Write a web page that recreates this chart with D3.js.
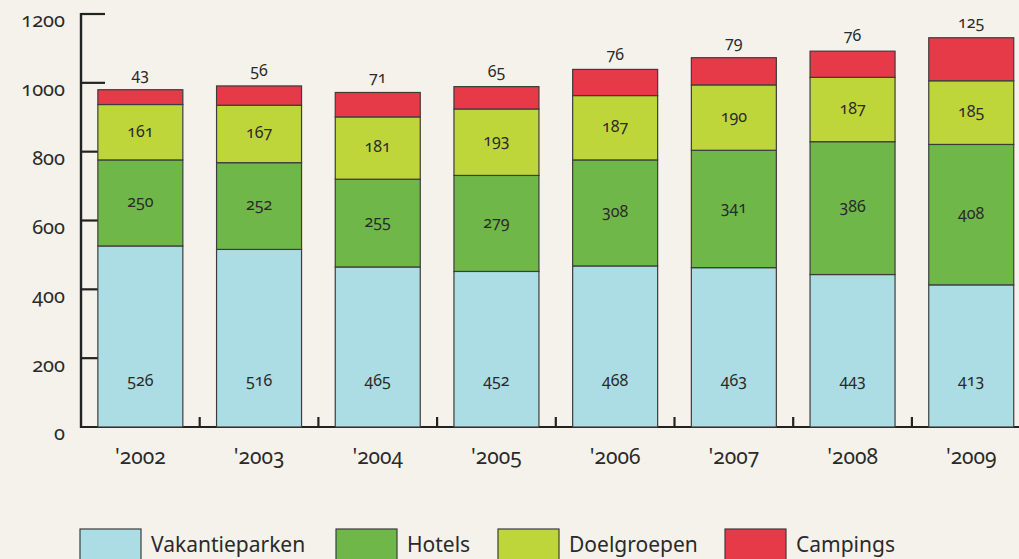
<!DOCTYPE html>
<html><head><meta charset="utf-8">
<script src="https://cdn.jsdelivr.net/npm/d3@7"></script>
<style>
html,body{margin:0;padding:0;background:#f5f2eb;}
svg{display:block;font-family:"Noto Sans",sans-serif;font-variant-numeric:oldstyle-nums;font-feature-settings:"onum";}
</style></head>
<body>
<svg id="c" width="1019" height="559"></svg>
<script>
const years = ["'2002","'2003","'2004","'2005","'2006","'2007","'2008","'2009"];
const vakantieparken = [526,516,465,452,468,463,443,413];
const hotels = [250,252,255,279,308,341,386,408];
const doelgroepen = [161,167,181,193,187,190,187,185];
const campings = [43,56,71,65,76,79,76,125];
const seriesNames = ["Vakantieparken","Hotels","Doelgroepen","Campings"];
const seriesColors = ["#acdde4","#70b74a","#bfd63a","#e63a48"];
const yTicks = [0,200,400,600,800,1000,1200];

const svg = d3.select("#c");
const table = years.map((y,i)=>({year:y, Vakantieparken:vakantieparken[i], Hotels:hotels[i], Doelgroepen:doelgroepen[i], Campings:campings[i]}));
const stack = d3.stack().keys(seriesNames)(table);

const x = d3.scaleBand().domain(years).range([81,1030.6]).paddingInner(0.284).paddingOuter(0.142);
const y = d3.scaleLinear().domain([0,1200]).range([427,14]);
const color = d3.scaleOrdinal().domain(seriesNames).range(seriesColors);

// y axis ticks (under bars)
const yAxis = svg.append("g");
yAxis.selectAll("line.t").data(yTicks.filter(d=>d>0)).join("line")
  .attr("x1",81).attr("x2",105).attr("y1",d=>y(d)).attr("y2",d=>y(d))
  .attr("stroke","#222").attr("stroke-width",2.2);
yAxis.append("line").attr("x1",81).attr("x2",81).attr("y1",y(1200)-1).attr("y2",y(0)+1)
  .attr("stroke","#222").attr("stroke-width",2.4);
yAxis.selectAll("text").data(yTicks).join("text")
  .attr("x",65).attr("y",d=>y(d)+8).attr("text-anchor","end").attr("dominant-baseline","middle")
  .attr("font-size",20).attr("fill","#2a2a2a").text(d=>d);

// x axis baseline and ticks between bars
const step = x.step();
svg.append("line").attr("x1",81).attr("x2",1019).attr("y1",y(0)).attr("y2",y(0))
  .attr("stroke","#222").attr("stroke-width",2.2);
svg.selectAll("line.xt").data(years.slice(0,-1)).join("line")
  .attr("x1",d=>x(d)+x.bandwidth()+(step-x.bandwidth())/2)
  .attr("x2",d=>x(d)+x.bandwidth()+(step-x.bandwidth())/2)
  .attr("y1",y(0)-10).attr("y2",y(0))
  .attr("stroke","#222").attr("stroke-width",2.2);

// bars
svg.append("g").selectAll("g").data(stack).join("g")
  .attr("fill",d=>color(d.key))
  .selectAll("rect").data(d=>d).join("rect")
  .attr("x",d=>x(d.data.year)).attr("width",x.bandwidth())
  .attr("y",d=>y(d[1])).attr("height",d=>y(d[0])-y(d[1]))
  .attr("stroke","#3c3c3c").attr("stroke-width",1.2);

// labels
const lab = svg.append("g").attr("font-size",16).attr("fill","#2a2a2a").attr("text-anchor","middle");
stack.forEach((s,si)=>{
  lab.selectAll(null).data(s).join("text")
    .attr("x",d=>x(d.data.year)+x.bandwidth()/2)
    .attr("y",d=>{
      if(si===0) return y(133);
      if(si===3) return y(d[1])-14;
      return (y(d[0])+y(d[1]))/2;
    })
    .attr("dominant-baseline","middle")
    .text(d=>d[1]-d[0]);
});

// x labels
svg.append("g").selectAll("text").data(years).join("text")
  .attr("x",d=>x(d)+x.bandwidth()/2).attr("y",458).attr("text-anchor","middle")
  .attr("dominant-baseline","middle").attr("font-size",21).attr("fill","#2a2a2a").text(d=>d);

// legend
const legX = [80,336,498,725];
const lg = svg.append("g");
seriesNames.forEach((n,i)=>{
  lg.append("rect").attr("x",legX[i]).attr("y",529).attr("width",61).attr("height",40)
    .attr("fill",seriesColors[i]).attr("stroke","#3c3c3c").attr("stroke-width",1.2);
  lg.append("text").attr("x",legX[i]+71).attr("y",552).attr("font-size",21)
    .attr("fill","#2a2a2a").text(n);
});
</script>
</body></html>
